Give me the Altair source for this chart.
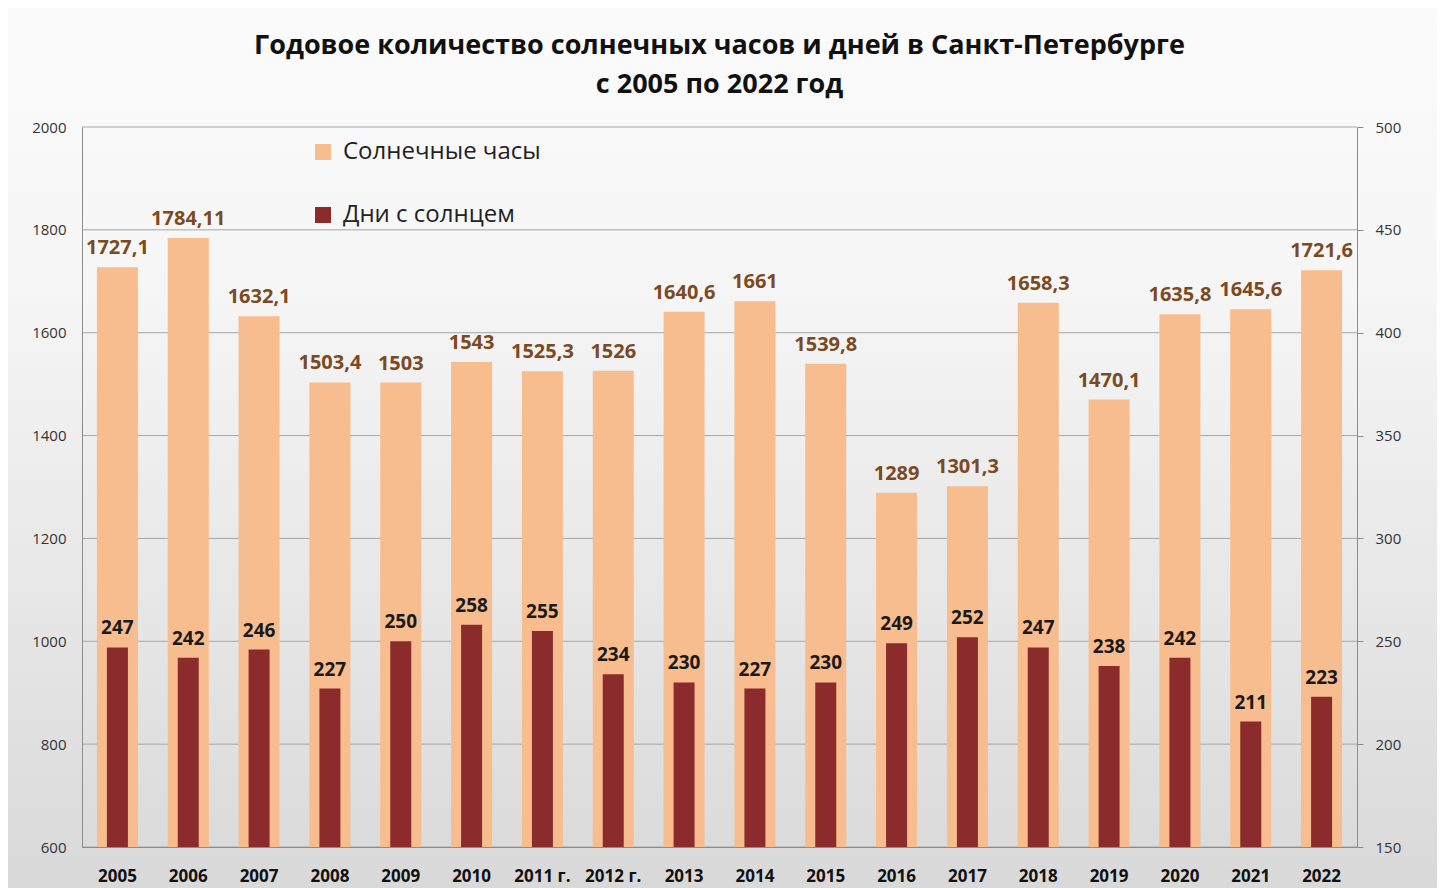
import altair as alt
import pandas as pd

years = ["2005", "2006", "2007", "2008", "2009", "2010", "2011 г.", "2012 г.", "2013",
         "2014", "2015", "2016", "2017", "2018", "2019", "2020", "2021", "2022"]
hours = [1727.1, 1784.11, 1632.1, 1503.4, 1503, 1543, 1525.3, 1526, 1640.6,
         1661, 1539.8, 1289, 1301.3, 1658.3, 1470.1, 1635.8, 1645.6, 1721.6]
days = [247, 242, 246, 227, 250, 258, 255, 234, 230,
        227, 230, 249, 252, 247, 238, 242, 211, 223]
left_ticks = [600, 800, 1000, 1200, 1400, 1600, 1800, 2000]
right_ticks = [150, 200, 250, 300, 350, 400, 450, 500]
series = ["Солнечные часы", "Дни с солнцем"]
series_colors = ["#F7BD8E", "#8B2B2B"]

df = pd.DataFrame({"year": years, "hours": hours, "days": days})
df["hlabel"] = [f"{v:g}".replace(".", ",") for v in hours]
df["s_hours"] = series[0]
df["s_days"] = series[1]
grid_df = pd.DataFrame({"tick": left_ticks})

W, H = 1275, 720
FONT = "Open Sans"

x_enc = alt.X("year:N", sort=years, title=None,
              scale=alt.Scale(paddingInner=0, paddingOuter=0),
              axis=alt.Axis(labelAngle=0, labelFontSize=17, labelFontWeight="bold",
                            labelColor="#111", labelFont=FONT, ticks=False,
                            labelPadding=21, domainColor="#8c8c8c", grid=False, zindex=1))
y_left = alt.Scale(domain=[600, 2000], nice=False, zero=False)
y_right = alt.Scale(domain=[150, 500], nice=False, zero=False)
color_scale = alt.Scale(domain=series, range=series_colors)
left_axis = alt.Axis(values=left_ticks, orient="left", grid=False, ticks=False, format="d",
                     labelFontSize=15, labelColor="#333", labelFont=FONT,
                     labelPadding=16, domainColor="#8c8c8c", zindex=1)

# background gradient (whole chart)
bg = alt.Chart(pd.DataFrame({"a": [0]})).mark_rect(
    color=alt.LinearGradient(gradient="linear",
                             stops=[alt.GradientStop(color="#fbfbfb", offset=0),
                                    alt.GradientStop(color="#f6f6f6", offset=0.3),
                                    alt.GradientStop(color="#d8d8d8", offset=1)],
                             x1=0, x2=0, y1=0, y2=1)
).encode(x=alt.value(-74), x2=alt.value(W + 80), y=alt.value(-119), y2=alt.value(H + 60))

grid = alt.Chart(grid_df).mark_rule(color="#a6a6a6", strokeWidth=1).encode(
    y=alt.Y("tick:Q", scale=y_left, title=None, axis=left_axis)
)

hours_bar = alt.Chart(df).mark_bar(size=41).encode(
    x=x_enc,
    y=alt.Y("hours:Q", scale=y_left, title=None, axis=left_axis),
    y2=alt.datum(600),
    color=alt.Color("s_hours:N", scale=color_scale, legend=alt.Legend(title=None)),
)
hours_text = alt.Chart(df).mark_text(
    dy=-9, baseline="bottom", fontWeight="bold", fontSize=20, color="#7B4A1F", font=FONT
).encode(x=alt.X("year:N", sort=years), y=alt.Y("hours:Q", scale=y_left), text="hlabel:N")

days_bar = alt.Chart(df).mark_bar(size=21).encode(
    x=alt.X("year:N", sort=years),
    y=alt.Y("days:Q", scale=y_right, title=None,
            axis=alt.Axis(values=right_ticks, orient="right", grid=False, ticks=True,
                          tickSize=6, tickColor="#8c8c8c",
                          labelFontSize=15, labelColor="#333", labelFont=FONT,
                          labelPadding=12, domainColor="#8c8c8c", zindex=1)),
    y2=alt.datum(150),
    color=alt.Color("s_days:N", scale=color_scale, legend=alt.Legend(title=None)),
)
days_text = alt.Chart(df).mark_text(
    dy=-9, baseline="bottom", fontWeight="bold", fontSize=19, color="#1a1a1a", font=FONT
).encode(x=alt.X("year:N", sort=years), y=alt.Y("days:Q", scale=y_right), text="days:Q")

left = alt.layer(bg, grid, hours_bar, hours_text)
right = alt.layer(days_bar, days_text)

# the background rect reaches 119px above the plot, so push the title back down
chart = alt.layer(left, right).resolve_scale(y="independent").properties(
    width=W, height=H,
    autosize=alt.AutoSizeParams(type="none"),
    padding={"left": 74, "top": 119, "right": 80, "bottom": 60},
    title=alt.TitleParams(
        ["Годовое количество солнечных часов и дней в Санкт-Петербурге",
         "с 2005 по 2022 год"],
        anchor="middle", frame="group", fontSize=27, fontWeight="bold", font=FONT,
        color="#111", lineHeight=39, offset=28, dy=146, baseline="bottom"),
).configure(background="#eeeeee").configure_view(stroke=None).configure_legend(
    orient="none", legendX=229, legendY=13, symbolType="square", symbolSize=256,
    symbolStrokeWidth=0, labelFontSize=24, labelFont=FONT, labelColor="#222",
    rowPadding=39, labelOffset=8, padding=0, labelLimit=0,
)

chart.save("out.html", embed_options={"renderer": "svg", "actions": False})
